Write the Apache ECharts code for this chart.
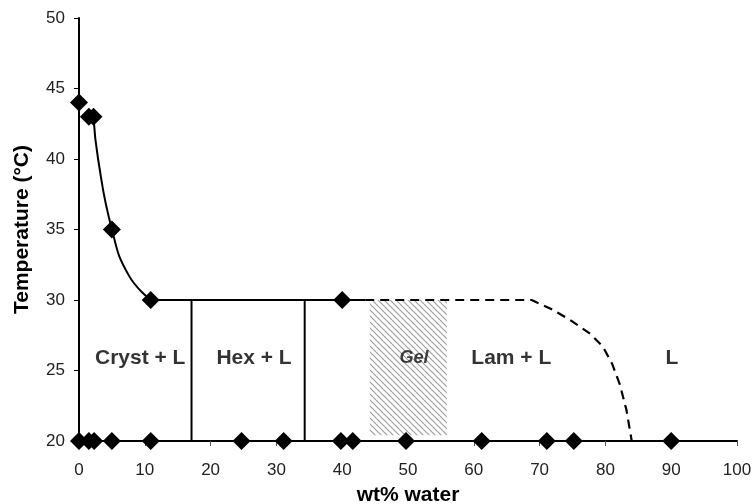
<!DOCTYPE html>
<html>
<head>
<meta charset="utf-8">
<script src="https://cdn.jsdelivr.net/npm/echarts@6/dist/echarts.min.js"></script>
<style>
  html, body { margin: 0; padding: 0; background: #fff; }
  #chart { width: 754px; height: 504px; }
</style>
</head>
<body>
<div id="chart"></div>
<script>
// measured samples (wt% water, temperature)
const samplePoints = [
  [0, 44], [1.5, 43], [2.2, 43], [5, 35], [10.9, 30], [40, 30],
  [0, 20], [1.5, 20], [2.3, 20], [5, 20], [10.9, 20], [24.7, 20], [31.1, 20],
  [39.8, 20], [41.6, 20], [49.7, 20], [61.2, 20], [71.1, 20], [75.2, 20], [90, 20]
];
// solid phase boundaries
const liquidusCurve = [[2.2, 43], [2.9, 40], [5, 35], [7.5, 31.8], [10.9, 30]];
const plateauLine = [[10.9, 30], [43.5, 30]];
const cryHexBoundary = [[17.1, 20], [17.1, 30]];
const hexBoundary = [[34.3, 20], [34.3, 30]];
// dashed lamellar boundary
const lamBoundary = [
  [43.5, 30], [68.8, 30], [71.6, 29.4], [74.6, 28.6], [77.7, 27.6],
  [79.6, 26.7], [81.0, 25.5], [82.2, 24.0], [83.2, 22.2], [84, 20]
];
// gel region (x0, y0, x1, y1)
const gelArea = [44.2, 20.4, 55.9, 30];
// region labels
const regionNames = ['Cryst + L', 'Hex + L', 'Gel', 'Lam + L', 'L'];
const regionX = [9.3, 26.6, 50.9, 65.7, 90.1];
const regionY = [25.9, 25.9, 25.9, 25.9, 25.9];

const xTicks = [0, 10, 20, 30, 40, 50, 60, 70, 80, 90, 100];
const yTicks = [20, 25, 30, 35, 40, 45, 50];

// hatch pattern for the gel area
const hatch = document.createElement('canvas');
hatch.width = 6;
hatch.height = 6;
const hctx = hatch.getContext('2d');
hctx.strokeStyle = '#a0a0a0';
hctx.lineWidth = 1.2;
hctx.beginPath();
hctx.moveTo(-1, -1); hctx.lineTo(7, 7);
hctx.moveTo(-4, 2); hctx.lineTo(2, 8);
hctx.moveTo(2, -4); hctx.lineTo(8, 2);
hctx.stroke();

const chart = echarts.init(document.getElementById('chart'));
const font = '"Liberation Sans", Arial, sans-serif';

const lineSeries = (data, opts) => Object.assign({
  type: 'line',
  data: data,
  symbol: 'none',
  silent: true,
  lineStyle: { color: '#000', width: 2 },
  z: 3
}, opts || {});

const option = {
  animation: false,
  backgroundColor: '#fff',
  grid: { left: 79, right: 17, top: 18, bottom: 63, outerBoundsMode: 'none', containLabel: false },
  xAxis: {
    type: 'value',
    min: xTicks[0],
    max: xTicks[xTicks.length - 1],
    interval: 10,
    name: 'wt% water',
    nameLocation: 'middle',
    nameGap: 44,
    nameTextStyle: { fontFamily: font, fontSize: 21, fontWeight: 'bold', color: '#000' },
    axisLine: { lineStyle: { color: '#000', width: 2 } },
    axisTick: { show: true, length: 5, lineStyle: { color: '#555' } },
    axisLabel: { fontFamily: font, fontSize: 17, color: '#222', margin: 21 },
    splitLine: { show: false }
  },
  yAxis: {
    type: 'value',
    min: yTicks[0],
    max: yTicks[yTicks.length - 1],
    interval: 5,
    name: 'Temperature (°C)',
    nameLocation: 'middle',
    nameGap: 46,
    nameTextStyle: { fontFamily: font, fontSize: 21, fontWeight: 'bold', color: '#000' },
    axisLine: { show: true, lineStyle: { color: '#000', width: 2 } },
    axisTick: { show: true, length: 5, lineStyle: { color: '#000' } },
    axisLabel: { fontFamily: font, fontSize: 17, color: '#222', margin: 14 },
    splitLine: { show: false }
  },
  series: [
    lineSeries(liquidusCurve, { smooth: 0.5 }),
    lineSeries(plateauLine),
    lineSeries(cryHexBoundary),
    lineSeries(hexBoundary),
    lineSeries(lamBoundary, { lineStyle: { color: '#000', width: 2.2, type: [9, 6], join: 'round' } }),
    {
      type: 'scatter',
      silent: true,
      data: [],
      markArea: {
        silent: true,
        itemStyle: { color: { image: hatch, repeat: 'repeat' } },
        data: [[{ coord: [gelArea[0], gelArea[1]] }, { coord: [gelArea[2], gelArea[3]] }]]
      },
      z: 1
    },
    {
      type: 'scatter',
      silent: true,
      symbol: 'diamond',
      symbolSize: [18, 18],
      itemStyle: { color: '#000', opacity: 1 },
      data: samplePoints,
      z: 5
    },
    {
      type: 'scatter',
      silent: true,
      symbolSize: 0,
      data: regionNames.map((n, i) => ({ name: n, value: [regionX[i], regionY[i]] })),
      label: {
        show: true,
        position: 'inside',
        formatter: p => p.name,
        fontFamily: font,
        fontWeight: 'bold',
        fontSize: 21,
        color: '#000'
      },
      labelLayout: { hideOverlap: false },
      z: 6
    }
  ]
};
// Gel label is smaller and italic
option.series[7].data[2].label = { fontStyle: 'italic', fontSize: 18, color: '#111' };

chart.setOption(option);
</script>
</body>
</html>
